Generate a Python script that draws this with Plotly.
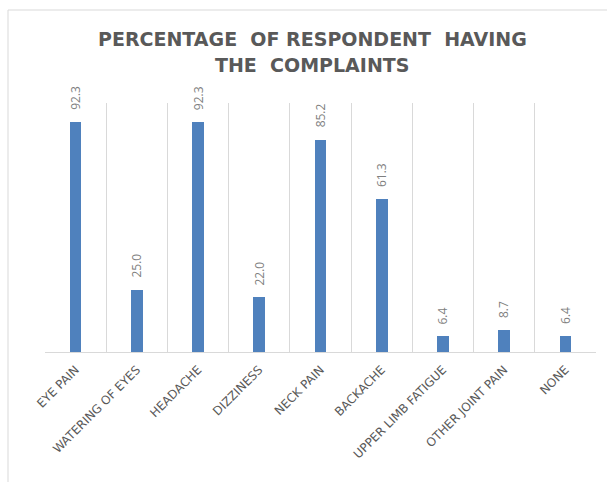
import plotly.graph_objects as go

categories = ["EYE PAIN", "WATERING OF EYES", "HEADACHE", "DIZZINESS", "NECK PAIN",
              "BACKACHE", "UPPER LIMB FATIGUE", "OTHER JOINT PAIN", "NONE"]
values = [92.3, 25.0, 92.3, 22.0, 85.2, 61.3, 6.4, 8.7, 6.4]
value_labels = ["92.3", "25.0", "92.3", "22.0", "85.2", "61.3", "6.4", "8.7", "6.4"]
title_lines = ["PERCENTAGE  OF RESPONDENT  HAVING", "THE  COMPLAINTS"]

W, H = 607, 482
L, R, T, B = 45, 11, 103, 130

fig = go.Figure()
fig.add_trace(go.Bar(
    x=categories, y=values, width=0.19,
    marker=dict(color="#4f81bd", line=dict(width=0)),
    hoverinfo="skip", cliponaxis=False,
))

for c, v, lab in zip(categories, values, value_labels):
    fig.add_annotation(x=c, y=v, text=lab, textangle=-90, showarrow=False,
                       xanchor="center", yanchor="bottom", yshift=10,
                       font=dict(family="Open Sans", size=12, color="#7f7f7f"))

pw = W - L - R
ph = H - T - B

def py(pix):
    return (H - B - pix) / ph

def px(pix):
    return (pix - L) / pw

# title, two centred lines
for line, ycen in zip(title_lines, [38.5, 65.5]):
    fig.add_annotation(xref="paper", yref="paper", x=px(312), y=py(ycen),
                       text="<b>" + line + "</b>", showarrow=False,
                       xanchor="center", yanchor="middle",
                       font=dict(family="DejaVu Sans", size=19, color="#595959"))

# chart border (top and left visible)
fig.add_shape(type="line", xref="paper", yref="paper",
              x0=px(8), x1=px(W + 5), y0=py(10), y1=py(10),
              line=dict(color="#d9d9d9", width=1))
fig.add_shape(type="line", xref="paper", yref="paper",
              x0=px(8), x1=px(8), y0=py(10), y1=py(H + 5),
              line=dict(color="#d9d9d9", width=1))

fig.update_layout(
    width=W, height=H,
    margin=dict(l=L, r=R, t=T, b=B, autoexpand=False),
    paper_bgcolor="white", plot_bgcolor="white",
    showlegend=False,
    bargap=0,
    xaxis=dict(tickangle=-45, tickson="boundaries", showgrid=True,
               gridcolor="#d9d9d9", gridwidth=1, ticks="", showline=True,
               linecolor="#d9d9d9", linewidth=1, automargin=False,
               ticklabelstandoff=5,
               tickfont=dict(family="DejaVu Sans", size=12, color="#595959"),
               range=[-0.5, 8.5], fixedrange=True),
    yaxis=dict(range=[0, 100], visible=False, showgrid=False, zeroline=False,
               fixedrange=True, automargin=False),
)

fig.write_html("out.html", config={"displayModeBar": False},
               post_script="document.body.style.margin='0';document.body.style.overflow='hidden';")
